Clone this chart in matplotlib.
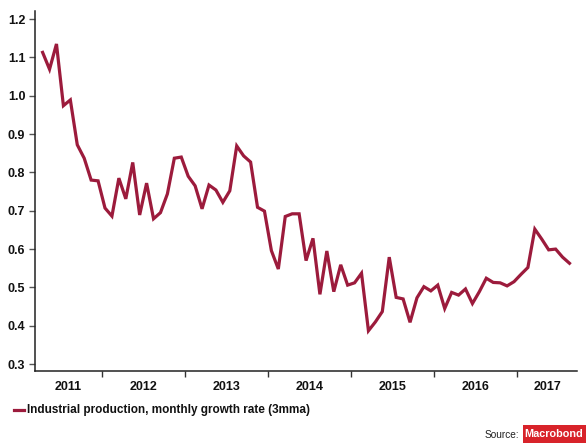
import numpy as np
import matplotlib.pyplot as plt
from matplotlib.patches import Rectangle

plt.rcParams['font.family'] = ['Liberation Sans', 'DejaVu Sans']

# monthly series, Apr 2011 .. Aug 2017
start_year = 2011
start_month = 4
growth = [1.113, 1.069, 1.135, 0.974, 0.989, 0.872, 0.837, 0.780, 0.778,
          0.707, 0.686, 0.785, 0.731, 0.826, 0.689, 0.772, 0.679, 0.695, 0.744, 0.837, 0.840,
          0.790, 0.765, 0.705, 0.767, 0.754, 0.722, 0.752, 0.869, 0.843, 0.827, 0.709, 0.699,
          0.596, 0.548, 0.685, 0.692, 0.692, 0.570, 0.628, 0.482, 0.595, 0.489, 0.559, 0.506,
          0.512, 0.537, 0.387, 0.410, 0.437, 0.579, 0.474, 0.470, 0.409, 0.473, 0.502, 0.491,
          0.506, 0.445, 0.487, 0.480, 0.496, 0.458, 0.489, 0.524, 0.513, 0.512, 0.504, 0.515,
          0.534, 0.552, 0.652, 0.626, 0.598, 0.600, 0.579, 0.563]
years = ['2011', '2012', '2013', '2014', '2015', '2016', '2017']
yticks = [0.3, 0.4, 0.5, 0.6, 0.7, 0.8, 0.9, 1.0, 1.1, 1.2]

line_color = '#9c1b3c'

# mid-month positions in fractional years
months = np.arange(len(growth)) + (start_month - 1)
x = start_year + (months + 0.5) / 12

fig = plt.figure(figsize=(5.86, 4.43), dpi=100)
ax = fig.add_axes([0.0597, 0.1625, 0.9249, 0.8127])
ax.plot(x, growth, color=line_color, lw=2.3, solid_joinstyle='miter')

x0, x1 = 2011.20, 2017.715
ax.set_xlim(x0, x1)
ax.set_ylim(0.282, 1.221)

ax.spines['top'].set_visible(False)
ax.spines['right'].set_visible(False)
for s in ['left', 'bottom']:
    ax.spines[s].set_linewidth(1.1)
    ax.spines[s].set_color('#222222')

ax.set_yticks(yticks)
ax.set_yticklabels([f'{v:.1f}' for v in yticks])
ax.tick_params(axis='y', length=4, width=1, color='#555555', pad=3,
               labelsize=9, labelcolor='#111111')
for t in ax.get_yticklabels():
    t.set_fontweight('bold')

# ticks at year boundaries, labels centred in each visible year
ax.set_xticks([2012, 2013, 2014, 2015, 2016, 2017])
ax.set_xticklabels([])
ax.tick_params(axis='x', which='major', length=4, width=1, color='#333333')
centres = []
for y in years:
    a = max(int(y), x0)
    b = min(int(y) + 1, x1)
    centres.append((a + b) / 2)
ax.set_xticks(centres, minor=True)
ax.set_xticklabels(years, minor=True, fontweight='bold', fontsize=9, color='#111111')
ax.tick_params(axis='x', which='minor', length=0, pad=7)

# legend below the axes
fig.add_artist(plt.Line2D([14 / 586, 24 / 586], [1 - 410 / 443] * 2,
                          color=line_color, lw=2.3, transform=fig.transFigure))
fig.text(27 / 586, 1 - 410 / 443, 'Industrial production, monthly growth rate (3mma)',
         fontsize=8.5, fontweight='bold', color='#111111', va='center', ha='left')

fig.text(519 / 586, 1 - 435 / 443, 'Source:', fontsize=7.3, color='#222222',
         va='center', ha='right')
fig.add_artist(Rectangle((523 / 586, 0), 70 / 586, 18 / 443, transform=fig.transFigure,
                         facecolor='#d8232a', edgecolor='none'))
fig.text(524.5 / 586, 1 - 434 / 443, 'Macrobond', fontsize=7.8, fontweight='bold',
         color='white', va='center', ha='left')

fig.savefig('out.png', dpi=100)
